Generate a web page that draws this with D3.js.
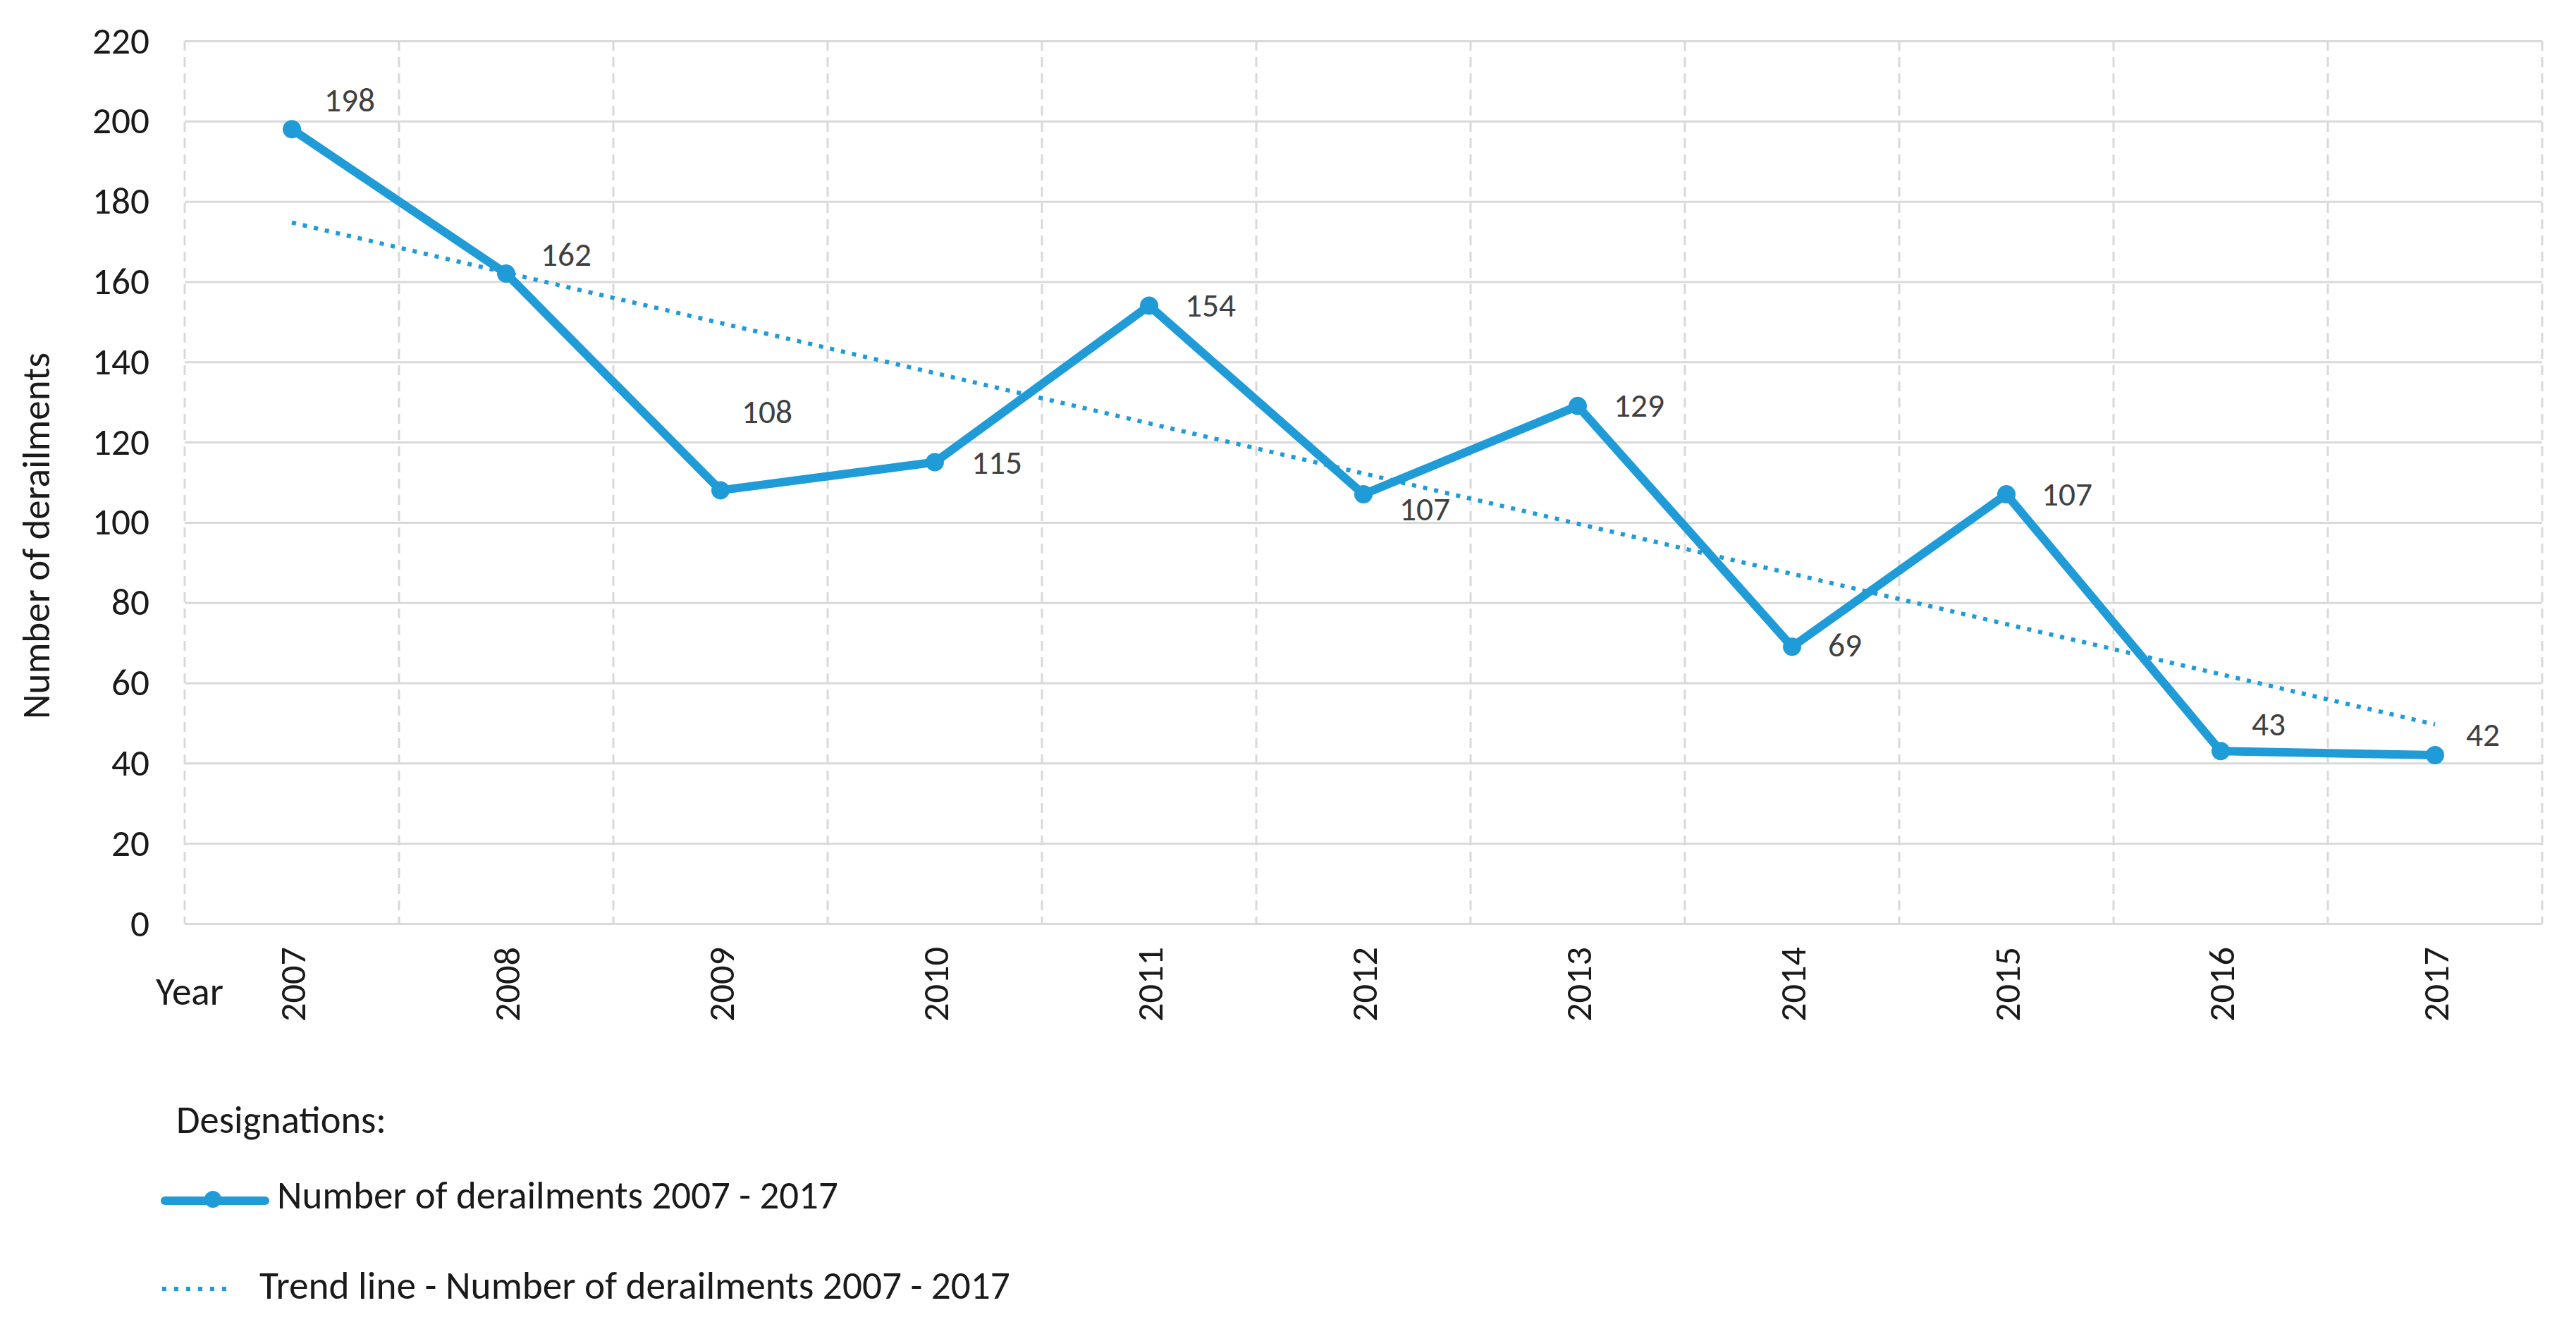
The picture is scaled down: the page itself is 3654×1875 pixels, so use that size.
<!DOCTYPE html>
<html>
<head>
<meta charset="utf-8">
<script src="https://cdn.jsdelivr.net/npm/d3@7/dist/d3.min.js"></script>
<style>
  html, body { margin: 0; padding: 0; background: #ffffff; }
  svg { display: block; }
  text { font-family: Carlito, Calibri, Lato, "Open Sans", sans-serif; }
</style>
</head>
<body>
<svg id="chart" width="3654" height="1875"></svg>
<script>
// ---- data ----
const years = ["2007","2008","2009","2010","2011","2012","2013","2014","2015","2016","2017"];
const derailments = [198, 162, 108, 115, 154, 107, 129, 69, 107, 43, 42];
const yTicks = [0, 20, 40, 60, 80, 100, 120, 140, 160, 180, 200, 220];
const seriesName = "Number of derailments 2007 - 2017";
const trendName = "Trend line - Number of derailments 2007 - 2017";
const yTitle = "Number of derailments";
const xTitle = "Year";
const legendTitle = "Designations:";

// ---- layout (label nudges in px relative to point: [left dx, baseline dy]) ----
const labelNudge = [[46,-25],[49,-11],[30,-95],[52,16],[51,15],[51,37],[51,15],[51,14],[50,16],[44,-22],[44,-13]];
const W = 3654, H = 1875;
const plot = {left: 262, right: 3606, top: 58, bottom: 1310};
const blue = "#1f9bd7";
const grid = "#d9d9d9";
const ink = "#1a1a1a";

// scale a text selection's font so that a sample element reaches a target width
function fitFont(sel, sampleNode, target) {
  const fs = parseFloat(d3.select(sampleNode).attr("font-size"));
  const w = sampleNode.getComputedTextLength();
  const nf = w > 0 ? fs * target / w : fs;
  sel.attr("font-size", nf);
  return nf;
}

const svg = d3.select("#chart");
svg.append("rect").attr("width", W).attr("height", H).attr("fill", "#fff");

const x = d3.scaleBand().domain(years).range([plot.left, plot.right]).padding(0);
const y = d3.scaleLinear().domain([0, 220]).range([plot.bottom, plot.top]);
const cx = d => x(d) + x.bandwidth() / 2;

// horizontal gridlines
svg.append("g")
  .attr("transform", `translate(${plot.left},0)`)
  .call(d3.axisLeft(y).tickValues(yTicks).tickSize(-(plot.right - plot.left)).tickFormat(""))
  .call(g => g.select(".domain").remove())
  .call(g => g.selectAll("line").attr("stroke", grid).attr("stroke-width", 3));

// vertical dashed gridlines at category boundaries
const bounds = years.map(d => x(d)).concat([plot.right]);
svg.append("g").selectAll("line").data(bounds).join("line")
  .attr("x1", d => d).attr("x2", d => d)
  .attr("y1", plot.top).attr("y2", plot.bottom)
  .attr("stroke", grid).attr("stroke-width", 3).attr("stroke-dasharray", "14 9");

// y axis labels
const yAx = svg.append("g")
  .attr("transform", `translate(${plot.left},0)`)
  .call(d3.axisLeft(y).tickValues(yTicks).tickSize(0).tickPadding(50))
  .call(g => g.select(".domain").remove());
const yTxt = yAx.selectAll("text")
  .attr("font-size", 46).attr("fill", ink)
  .style("font-family", "Carlito, Calibri, Lato, sans-serif");
fitFont(yTxt, yTxt.nodes()[yTxt.size() - 1], 81);

// x axis labels (rotated)
const xAx = svg.append("g")
  .attr("transform", `translate(0,${plot.bottom})`)
  .call(d3.axisBottom(x).tickSize(0))
  .call(g => g.select(".domain").remove());
const xTxt = xAx.selectAll("text")
  .attr("transform", "rotate(-90)")
  .attr("x", -33).attr("y", 0).attr("dy", "0.36em")
  .attr("text-anchor", "end")
  .attr("font-size", 46).attr("fill", ink)
  .style("font-family", "Carlito, Calibri, Lato, sans-serif");
fitFont(xTxt, xTxt.nodes()[0], 106);

// axis titles
const yT = svg.append("text")
  .attr("transform", `translate(70,760) rotate(-90)`)
  .attr("text-anchor", "middle")
  .attr("font-size", 46).attr("fill", ink)
  .text(yTitle);
fitFont(yT, yT.node(), 520);
const xT = svg.append("text")
  .attr("x", 221).attr("y", 1425)
  .attr("font-size", 46).attr("fill", ink)
  .text(xTitle);
fitFont(xT, xT.node(), 96);

// trend line (least squares from the data)
const n = derailments.length;
const xs = d3.range(n);
const mx = d3.mean(xs), my = d3.mean(derailments);
const slope = d3.sum(xs, i => (i - mx) * (derailments[i] - my)) / d3.sum(xs, i => (i - mx) ** 2);
const icpt = my - slope * mx;
const trend = [0, n - 1].map(i => ({year: years[i], v: icpt + slope * i}));
svg.append("path")
  .datum(trend)
  .attr("fill", "none").attr("stroke", blue).attr("stroke-width", 6)
  .attr("stroke-dasharray", "6 10")
  .attr("d", d3.line().x(d => cx(d.year)).y(d => y(d.v)));

// data line
const pts = years.map((yr, i) => ({year: yr, v: derailments[i], i}));
svg.append("path")
  .datum(pts)
  .attr("fill", "none").attr("stroke", blue).attr("stroke-width", 12)
  .attr("stroke-linejoin", "round")
  .attr("d", d3.line().x(d => cx(d.year)).y(d => y(d.v)));
svg.append("g").selectAll("circle").data(pts).join("circle")
  .attr("cx", d => cx(d.year)).attr("cy", d => y(d.v)).attr("r", 13).attr("fill", blue);

// data labels
const dl = svg.append("g").selectAll("text").data(pts).join("text")
  .attr("x", d => cx(d.year) + labelNudge[d.i][0])
  .attr("y", d => y(d.v) + labelNudge[d.i][1])
  .attr("font-size", 42).attr("fill", "#404040")
  .text(d => d.v);
fitFont(dl, dl.nodes()[0], 72);

// legend
const lt = svg.append("text").attr("x", 250).attr("y", 1607)
  .attr("font-size", 46).attr("fill", ink).text(legendTitle);
fitFont(lt, lt.node(), 298);
svg.append("line").attr("x1", 234).attr("x2", 376).attr("y1", 1703).attr("y2", 1703)
  .attr("stroke", blue).attr("stroke-width", 12).attr("stroke-linecap", "round");
svg.append("circle").attr("cx", 302).attr("cy", 1701).attr("r", 12).attr("fill", blue);
const l1 = svg.append("text").attr("x", 393).attr("y", 1714)
  .attr("font-size", 46).attr("fill", ink).text(seriesName);
fitFont(l1, l1.node(), 796);
svg.append("line").attr("x1", 230).attr("x2", 324).attr("y1", 1828).attr("y2", 1828)
  .attr("stroke", blue).attr("stroke-width", 6).attr("stroke-dasharray", "6 11");
const l2 = svg.append("text").attr("x", 368).attr("y", 1842)
  .attr("font-size", 46).attr("fill", ink).text(trendName);
fitFont(l2, l2.node(), 1065);
</script>
</body>
</html>
